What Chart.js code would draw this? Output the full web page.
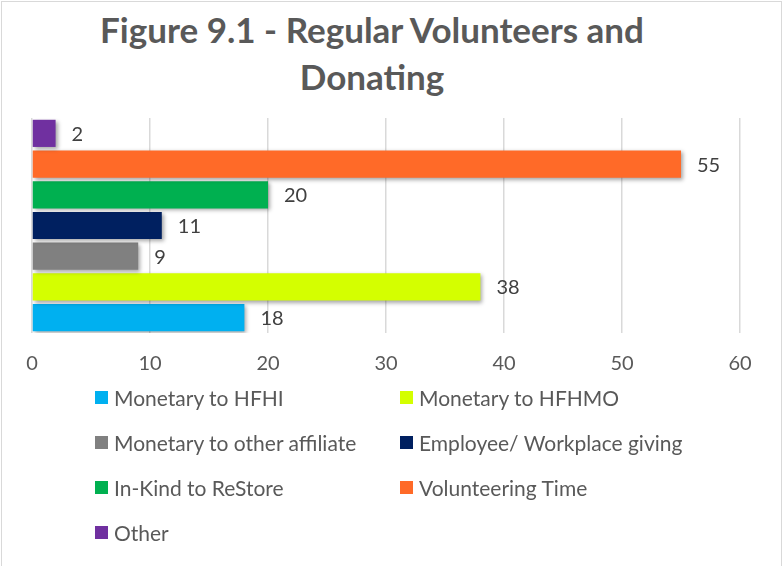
<!DOCTYPE html>
<html>
<head>
<meta charset="utf-8">
<title>Regular Volunteers and Donating</title>
<script src="https://cdn.jsdelivr.net/npm/chart.js@4/dist/chart.umd.min.js"></script>
<style>
    html, body {
        margin: 0;
        padding: 0;
        background: #ffffff;
        width: 783px;
        height: 566px;
        overflow: hidden;
        font-family: Lato, "Open Sans", sans-serif;
    }
    .frame {
        position: absolute;
        left: 1px;
        top: 1px;
        width: 781px;
        height: 600px;
        box-sizing: border-box;
        border: 1px solid #d9d9d9;
    }
    .chart-title {
        position: absolute;
        left: 0;
        top: 6px;
        width: 744px;
        text-align: center;
        font-weight: bold;
        font-size: 35px;
        line-height: 47px;
        color: #595959;
    }
    .chart-wrap {
        position: absolute;
        left: 0;
        top: 0;
        width: 783px;
        height: 566px;
    }
    #legend {
        position: absolute;
        left: 95px;
        top: 375px;
        display: grid;
        grid-template-columns: 305px auto;
        grid-auto-rows: 45px;
        font-size: 21px;
        color: #595959;
    }
    .legend-item {
        display: flex;
        align-items: center;
        white-space: nowrap;
    }
    .legend-box {
        width: 13px;
        height: 13px;
        margin-right: 6px;
        flex: none;
    }
</style>
</head>
<body>
<div class="frame"></div>
<div class="chart-title">Figure 9.1 - Regular Volunteers and<br>Donating</div>
<div class="chart-wrap"><canvas id="chart"></canvas></div>
<div id="legend"></div>

<script>
// Survey answers, in legend order (first one is drawn at the bottom)
const categories = ['Monetary to HFHI', 'Monetary to HFHMO', 'Monetary to other affiliate',
    'Employee/ Workplace giving', 'In-Kind to ReStore', 'Volunteering Time', 'Other'];
const counts = [18, 38, 9, 11, 20, 55, 2];
const colors = ['#00b0f0', '#d4ff00', '#808080', '#002060', '#00b050', '#ff6a28', '#7030a0'];
const xTicks = [0, 10, 20, 30, 40, 50, 60];

const FONT = 'Lato, "Open Sans", sans-serif';

// Value printed just past the end of each bar
const valueLabels = {
    id: 'valueLabels',
    afterDatasetsDraw(chart) {
        const ctx = chart.ctx;
        ctx.save();
        ctx.font = `20px ${FONT}`;
        ctx.fillStyle = '#404040';
        ctx.textAlign = 'left';
        ctx.textBaseline = 'middle';
        chart.data.datasets.forEach((ds, i) => {
            const bar = chart.getDatasetMeta(i).data[0];
            if (!bar) return;
            ctx.fillText(ds.data[0], bar.x + 16, bar.y + 1);
        });
        ctx.restore();
    }
};

// Soft drop shadow under the bars
const barShadow = {
    id: 'barShadow',
    beforeDatasetsDraw(chart) {
        const ctx = chart.ctx;
        ctx.save();
        ctx.shadowColor = 'rgba(0, 0, 0, 0.35)';
        ctx.shadowBlur = 4;
        ctx.shadowOffsetX = 2;
        ctx.shadowOffsetY = 2;
    },
    afterDatasetsDraw(chart) {
        chart.ctx.restore();
    }
};

// Grouped bars stack top-down, so feed the datasets last-first
const datasets = categories.map((name, i) => ({
    label: name,
    data: [counts[i]],
    backgroundColor: colors[i],
    borderWidth: 0,
    categoryPercentage: 1.0,
    barPercentage: 0.885
})).reverse();

new Chart(document.getElementById('chart'), {
    type: 'bar',
    data: {
        labels: [''],
        datasets: datasets
    },
    options: {
        indexAxis: 'y',
        responsive: true,
        maintainAspectRatio: false,
        animation: false,
        layout: {
            padding: { top: 118, left: 32, right: 43, bottom: 171 }
        },
        plugins: {
            legend: { display: false },
            title: { display: false },
            tooltip: { enabled: false }
        },
        scales: {
            x: {
                min: xTicks[0],
                max: xTicks[xTicks.length - 1],
                afterBuildTicks(axis) {
                    axis.ticks = xTicks.map(v => ({ value: v }));
                },
                grid: {
                    color: '#d9d9d9',
                    lineWidth: 1.5,
                    drawTicks: false
                },
                border: { display: false },
                ticks: {
                    padding: 19,
                    color: '#595959',
                    font: { family: FONT, size: 20 }
                }
            },
            y: {
                display: false
            }
        }
    },
    plugins: [barShadow, valueLabels]
});

// Two-column legend below the plot
const legend = document.getElementById('legend');
legend.innerHTML = categories.map((name, i) => `
    <div class="legend-item">
        <span class="legend-box" style="background: ${colors[i]};"></span>
        <span>${name}</span>
    </div>
`).join('');
</script>
</body>
</html>
